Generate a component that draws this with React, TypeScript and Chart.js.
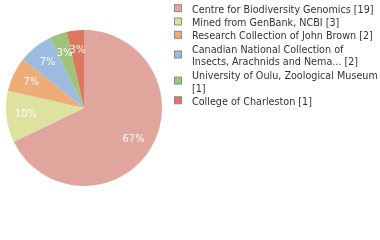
import React, { useEffect, useRef } from "react";
import { Chart, registerables } from "chart.js";

Chart.register(...registerables);

const institutions: string[][] = [
  ["Centre for Biodiversity Genomics [19]"],
  ["Mined from GenBank, NCBI [3]"],
  ["Research Collection of John Brown [2]"],
  ["Canadian National Collection of", "Insects, Arachnids and Nema... [2]"],
  ["University of Oulu, Zoological Museum", "[1]"],
  ["College of Charleston [1]"],
];
const counts: number[] = [19, 3, 2, 2, 1, 1];
const sliceColors: string[] = ["#e0a59d", "#dde29f", "#eeac76", "#9dbae0", "#9cc47b", "#de7760"];

const FONT = "'DejaVu Sans Condensed', 'DejaVu Sans'";

const pctLabels = {
  id: "pctLabels",
  afterDatasetsDraw(chart: any) {
    const ctx = chart.ctx;
    const meta = chart.getDatasetMeta(0);
    const data = chart.data.datasets[0].data as number[];
    const total = data.reduce((a, b) => a + b, 0);
    ctx.save();
    ctx.fillStyle = "#ffffff";
    ctx.font = `11px ${FONT}`;
    ctx.textAlign = "center";
    ctx.textBaseline = "middle";
    meta.data.forEach((arc: any, i: number) => {
      const p = arc.getProps(["x", "y", "startAngle", "endAngle", "outerRadius"], true);
      const mid = (p.startAngle + p.endAngle) / 2;
      const r = p.outerRadius * 0.75;
      const pct = Math.floor((data[i] / total) * 100);
      ctx.fillText(pct + "%", p.x + Math.cos(mid) * r, p.y + Math.sin(mid) * r);
    });
    ctx.restore();
  },
};

const sideLegend = {
  id: "sideLegend",
  afterDraw(chart: any) {
    const ctx = chart.ctx;
    const labels = chart.data.labels as string[][];
    const colors = chart.data.datasets[0].backgroundColor as string[];
    ctx.save();
    ctx.font = `10.7px ${FONT}`;
    ctx.textAlign = "left";
    ctx.textBaseline = "alphabetic";
    const linePitch = 12.8;
    const itemGap = 0.5;
    let baseline = 12.7;
    labels.forEach((lines, i) => {
      const first = baseline;
      lines.forEach((line, j) => {
        ctx.fillStyle = "#333333";
        ctx.fillText(line, 192, baseline);
        if (j < lines.length - 1) baseline += linePitch;
      });
      const last = baseline;
      const cy = (first + last) / 2 - 4.5;
      ctx.fillStyle = colors[i];
      ctx.fillRect(174.5, cy - 3.5, 7, 7);
      ctx.strokeStyle = "#8a8a8a";
      ctx.lineWidth = 1;
      ctx.strokeRect(174.5, cy - 3.5, 7, 7);
      baseline += linePitch + itemGap;
    });
    ctx.restore();
  },
};

export default function App() {
  const ref = useRef<HTMLCanvasElement | null>(null);
  useEffect(() => {
    if (!ref.current) return;
    const chart = new Chart(ref.current, {
      type: "pie",
      data: {
        labels: institutions as any,
        datasets: [
          {
            data: counts,
            backgroundColor: sliceColors,
            borderWidth: 0,
          },
        ],
      },
      options: {
        animation: false,
        responsive: false,
        maintainAspectRatio: false,
        layout: { padding: { left: 6, top: 30, right: 218, bottom: 54 } },
        plugins: {
          legend: { display: false },
          tooltip: { enabled: false },
        },
      },
      plugins: [pctLabels, sideLegend],
    });
    return () => chart.destroy();
  }, []);
  return (
    <div style={{ position: "fixed", left: 0, top: 0, width: 380, height: 240, background: "#fff" }}>
      <canvas ref={ref} width={380} height={240} style={{ width: 380, height: 240, display: "block" }} />
    </div>
  );
}
